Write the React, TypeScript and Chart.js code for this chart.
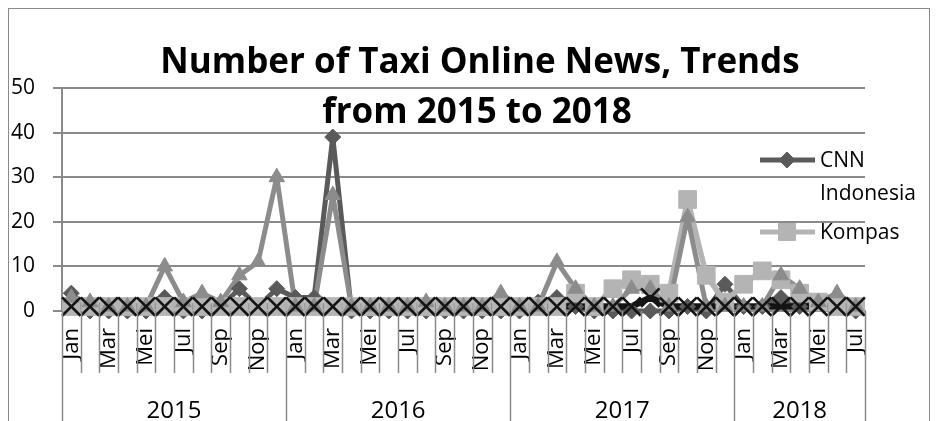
import React, { useEffect, useRef } from "react";
import { Chart, registerables } from "chart.js";
import { drawPoint } from "chart.js/helpers";

Chart.register(...registerables);

// ---------- DATA ----------
const monthNames = ["Jan", "Feb", "Mar", "Apr", "Mei", "Jun", "Jul", "Agu", "Sep", "Okt", "Nop", "Des"];
const years = ["2015", "2016", "2017", "2018"];
const monthsPerYear = [12, 12, 12, 7];

const cnnIndonesia = [
  4, 0, 0, 0, 0, 3, 0, 0, 1, 5, 1, 5,
  3, 3, 39, 0, 0, 0, 0, 0, 0, 0, 0, 0,
  0, 2, 3, 1, 0, 0, 0, 0, 0, 1, 0, 6,
  1, 1, 3, 1, 2, 1, 0,
];
const kompas = [
  1, 1, 1, 1, 1, 1, 1, 1, 1, 1, 1, 1,
  1, 1, 1, 1, 1, 1, 1, 1, 1, 1, 1, 1,
  1, 1, 1, 4, 1, 5, 7, 6, 4, 25, 8, 2,
  6, 9, 7, 4, 2, 1, 1,
];
const series3 = [
  3, 2, 1, 1, 1, 10, 2, 4, 2, 8, 11, 30,
  1, 1, 26, 1, 1, 1, 1, 2, 1, 1, 1, 4,
  1, 1, 11, 5, 1, 1, 5, 5, 1, 21, 1, 1,
  1, 1, 8, 5, 2, 4, 1,
];
const series4 = [
  1, 1, 1, 1, 1, 1, 1, 1, 1, 1, 1, 1,
  1, 1, 1, 1, 1, 1, 1, 1, 1, 1, 1, 1,
  1, 1, 1, 1, 1, 1, 1, 3, 1, 1, 1, 1,
  1, 1, 1, 1, 1, 1, 1,
];
const yTicks = [0, 10, 20, 30, 40, 50];
const titleLines = ["Number of Taxi Online News, Trends", "from 2015 to 2018"];

// categories built from the month / year lists
const categories: string[] = [];
const monthIndex: number[] = [];
years.forEach((y, yi) => {
  for (let m = 0; m < monthsPerYear[yi]; m++) {
    categories.push(monthNames[m]);
    monthIndex.push(m);
  }
});

// ---------- STYLE ----------
const FONT = "'Open Sans', sans-serif";
const GRID = "#8a8a8a";
const C_CNN = "#5a5a5a";
const C_KOMPAS = "#b4b4b4";
const C_S3 = "#8c8c8c";
const C_S4 = "#141414";

const CANVAS_W = 920;
const CANVAS_H = 412;

const decorPlugin = {
  id: "decor",
  afterDraw(chart: any) {
    const { ctx, chartArea } = chart;
    const x = chart.scales.x;
    const n = categories.length;
    const w = x.getPixelForValue(1) - x.getPixelForValue(0);
    ctx.save();
    // category tick marks + year separators
    const yearBounds: number[] = [0];
    monthsPerYear.reduce((acc, m) => {
      yearBounds.push(acc + m);
      return acc + m;
    }, 0);
    ctx.strokeStyle = GRID;
    ctx.lineWidth = 1.5;
    for (let k = 0; k <= n; k++) {
      const bx = Math.round(x.getPixelForValue(0) - w / 2 + k * w) + 0.5;
      const full = yearBounds.includes(k);
      ctx.beginPath();
      ctx.moveTo(bx, chartArea.bottom);
      ctx.lineTo(bx, full ? chart.height : chartArea.bottom + 62);
      ctx.stroke();
    }
    // year labels
    ctx.fillStyle = "#000";
    ctx.font = `24px ${FONT}`;
    ctx.textAlign = "center";
    ctx.textBaseline = "alphabetic";
    for (let yi = 0; yi < years.length; yi++) {
      const a = x.getPixelForValue(0) - w / 2 + yearBounds[yi] * w;
      const b = x.getPixelForValue(0) - w / 2 + yearBounds[yi + 1] * w;
      ctx.fillText(years[yi], (a + b) / 2, chart.height - 3);
    }
    // title
    ctx.font = `bold 35px ${FONT}`;
    ctx.fillText(titleLines[0], 471, 64);
    ctx.fillText(titleLines[1], 468, 114);

    // legend (first two series)
    const legendItems = [
      { label: ["CNN", "Indonesia"], color: C_CNN, style: "rectRot", r: 8, y: 151 },
      { label: ["Kompas"], color: C_KOMPAS, style: "rect", r: 12, y: 223 },
    ];
    ctx.textAlign = "left";
    ctx.font = `21px ${FONT}`;
    legendItems.forEach((it) => {
      ctx.strokeStyle = it.color;
      ctx.lineWidth = 5;
      ctx.beginPath();
      ctx.moveTo(751, it.y);
      ctx.lineTo(806, it.y);
      ctx.stroke();
      ctx.fillStyle = it.color;
      ctx.strokeStyle = it.color;
      ctx.lineWidth = 1;
      drawPoint(ctx, { pointStyle: it.style, radius: it.r, rotation: 0, borderWidth: 1 }, 778, it.y);
      ctx.fillStyle = "#000";
      it.label.forEach((t, li) => ctx.fillText(t, 811, it.y + 7 + li * 33));
    });
    ctx.restore();
  },
};

function lineDs(label: string, data: number[], color: string, width: number, order: number) {
  return {
    label,
    data,
    borderColor: color,
    backgroundColor: color,
    borderWidth: width,
    borderJoinStyle: "round",
    borderCapStyle: "round",
    pointRadius: 0,
    pointHoverRadius: 0,
    tension: 0,
    order,
    clip: false as any,
  };
}
function pointDs(label: string, data: number[], color: string, style: string, r: number, bw: number, order: number) {
  return {
    label,
    data,
    showLine: false,
    borderColor: color,
    backgroundColor: color,
    pointStyle: style,
    pointRadius: r,
    pointHoverRadius: r,
    pointBorderWidth: bw,
    order,
    clip: false as any,
  };
}

export default function App() {
  const ref = useRef<HTMLCanvasElement | null>(null);
  useEffect(() => {
    if (!ref.current) return;
    const chart = new Chart(ref.current, {
      type: "line",
      data: {
        labels: categories,
        datasets: [
          lineDs("CNN Indonesia", cnnIndonesia, C_CNN, 5, 8),
          lineDs("Kompas", kompas, C_KOMPAS, 5.5, 7),
          lineDs("Series 3", series3, C_S3, 5, 6),
          lineDs("Series 4", series4, C_S4, 6.5, 5),
          pointDs("CNN Indonesia", cnnIndonesia, C_CNN, "rectRot", 8, 1, 4),
          pointDs("Kompas", kompas, C_KOMPAS, "rect", 12.5, 1, 3),
          pointDs("Series 3", series3, C_S3, "triangle", 9, 1, 2),
          pointDs("Series 4", series4, C_S4, "crossRot", 13, 2.6, 1),
        ] as any,
      },
      options: {
        responsive: false,
        animation: false,
        events: [],
        layout: { padding: { left: 0, top: 79, right: 64, bottom: 0 } },
        plugins: {
          legend: { display: false },
          title: { display: false },
          tooltip: { enabled: false },
        },
        scales: {
          x: {
            type: "category",
            offset: true,
            grid: { display: false, drawTicks: false },
            border: { display: true, color: GRID, width: 2 },
            ticks: {
              autoSkip: false,
              maxRotation: 90,
              minRotation: 90,
              padding: 17,
              color: "#000",
              font: { family: FONT, size: 22 },
              callback: (_v: any, i: number) => (monthIndex[i] % 2 === 0 ? categories[i] : ""),
            },
            afterFit: (s: any) => {
              s.height = 110;
            },
          },
          y: {
            min: yTicks[0],
            max: yTicks[yTicks.length - 1],
            afterBuildTicks: (s: any) => {
              s.ticks = yTicks.map((v) => ({ value: v }));
            },
            grid: { color: GRID, lineWidth: 2, drawTicks: true, tickLength: 9, tickColor: GRID },
            border: { display: true, color: GRID, width: 2 },
            ticks: {
              padding: 18,
              color: "#000",
              font: { family: FONT, size: 21 },
            },
            afterFit: (s: any) => {
              s.width = 53;
            },
          },
        },
      },
      plugins: [decorPlugin],
    });
    return () => chart.destroy();
  }, []);

  return (
    <div
      style={{
        width: CANVAS_W,
        height: CANVAS_H + 20,
        borderTop: "1px solid #8a8a8a",
        borderLeft: "1px solid #8a8a8a",
        borderRight: "1px solid #8a8a8a",
        background: "#fff",
      }}
    >
      <canvas ref={ref} width={CANVAS_W} height={CANVAS_H} style={{ display: "block", width: CANVAS_W, height: CANVAS_H }} />
    </div>
  );
}
